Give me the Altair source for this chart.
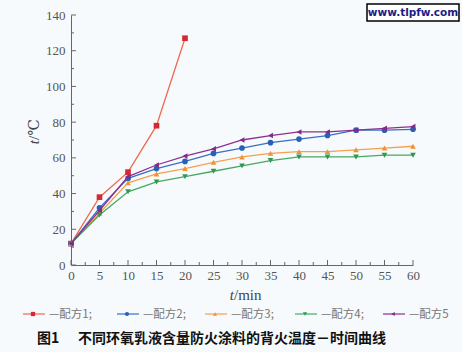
import altair as alt
import pandas as pd

# ---- data ----
times = [0, 5, 10, 15, 20, 25, 30, 35, 40, 45, 50, 55, 60]
s1 = [12, 38, 52, 78, 127]
s2 = [12, 32, 48.5, 54, 58, 62.5, 65.5, 68.5, 70.5, 72.5, 75.5, 75.5, 76]
s3 = [12, 29, 46, 51, 54, 57.5, 60.5, 62.5, 63.5, 63.5, 64.5, 65.5, 66.5]
s4 = [12, 28, 41, 46.5, 49.5, 52.5, 55.5, 58.5, 60.5, 60.5, 60.5, 61.5, 61.5]
s5 = [12, 30.5, 49.5, 56, 61, 65, 70, 72.5, 74.5, 74.5, 75.5, 76.5, 77.5]
names = ["配方1", "配方2", "配方3", "配方4", "配方5"]
series_vals = [s1, s2, s3, s4, s5]
x_major = list(range(0, 61, 5))
x_minor = [v + 2.5 for v in range(0, 60, 5)]
y_major = list(range(0, 141, 20))
y_minor = list(range(10, 140, 20))

# ---- styles ----
line_colors = ["#ee6a4e", "#3a6fc2", "#f5a04c", "#48a864", "#8e3090"]
mark_colors = ["#d42834", "#2462b6", "#f39232", "#2f9a4c", "#842a86"]
shapes = ["square", "circle", "triangle-up", "triangle-down", "triangle-left"]
W, H = 342, 250
serif = "'Liberation Serif', 'DejaVu Serif', serif"
cjk = "Noto Sans CJK SC"
gray = "#555555"

xs = alt.Scale(domain=[0, 60], nice=False)
ys = alt.Scale(domain=[0, 140], nice=False)
x_axis = alt.Axis(values=x_major, ticks=False, grid=False, title=None,
                  labelFont=serif, labelFontSize=13, labelColor=gray,
                  labelOverlap=False, labelFlush=False,
                  domainColor="#666666", labelPadding=4)
y_axis = alt.Axis(values=y_major, ticks=False, grid=False, title=None,
                  labelFont=serif, labelFontSize=13, labelColor=gray,
                  labelOverlap=False, labelFlush=False,
                  domainColor="#666666", labelPadding=6)

layers = []
for name, vals, lc, mc, sh in zip(names, series_vals, line_colors, mark_colors, shapes):
    df = pd.DataFrame({"t": times[:len(vals)], "v": vals, "s": name})
    base = alt.Chart(df).encode(
        x=alt.X("t:Q", scale=xs, axis=x_axis),
        y=alt.Y("v:Q", scale=ys, axis=y_axis),
    )
    layers.append(base.mark_line(color=lc, strokeWidth=1.3))
    layers.append(base.mark_point(filled=True, color=mc, shape=sh, size=32, opacity=1))

# inward ticks
def xticks(vals, length):
    return alt.Chart(pd.DataFrame({"t": vals})).mark_rule(color="#666666", strokeWidth=1).encode(
        x=alt.X("t:Q", scale=xs, axis=x_axis), y=alt.value(H), y2=alt.value(H - length))

def yticks(vals, length):
    return alt.Chart(pd.DataFrame({"v": vals})).mark_rule(color="#666666", strokeWidth=1).encode(
        y=alt.Y("v:Q", scale=ys, axis=y_axis), x=alt.value(0), x2=alt.value(length))

layers += [xticks(x_major, 5), xticks(x_minor, 3), yticks(y_major, 5), yticks(y_minor, 3)]

one = pd.DataFrame({"a": [0]})

def txt(text, x, y, font, size, color, **kw):
    return alt.Chart(one).mark_text(text=text, font=font, fontSize=size, color=color, **kw).encode(
        x=alt.value(x), y=alt.value(y))

# axis titles
layers.append(txt("t", -37, 125, serif, 15, "#444444", fontStyle="italic", angle=270, align="right", baseline="middle"))
layers.append(txt("/℃", -37, 125, serif, 15, "#444444", angle=270, align="left", baseline="middle"))
layers.append(txt("t", 163, 280, serif, 15, "#444444", fontStyle="italic", align="right", baseline="middle"))
layers.append(txt("/min", 163, 280, serif, 15, "#444444", align="left", baseline="middle"))

# legend
leg_line_x = [-48, 46, 134, 224, 312]
leg_line_w = 22
leg_y = 299
for i, (name, lc, mc, sh) in enumerate(zip(names, line_colors, mark_colors, shapes)):
    x0 = leg_line_x[i]
    layers.append(alt.Chart(one).mark_rule(color=lc, strokeWidth=1.2).encode(
        x=alt.value(x0), x2=alt.value(x0 + leg_line_w), y=alt.value(leg_y)))
    layers.append(alt.Chart(one).mark_point(filled=True, color=mc, shape=sh, size=18, opacity=1).encode(
        x=alt.value(x0 + 10), y=alt.value(leg_y)))
    label = "—" + name + ("; " if i < 4 else "")
    layers.append(txt(label, x0 + leg_line_w + 4, leg_y + 1, cjk, 11.5, "#777777", align="left", baseline="middle"))

# caption
layers.append(txt("图1", -34, 324, cjk, 14, "#111111", align="left", baseline="middle", fontWeight="bold"))
layers.append(txt("不同环氧乳液含量防火涂料的背火温度－时间曲线", 7, 324, cjk, 14, "#111111",
                  align="left", baseline="middle", fontWeight="bold"))

# watermark
layers.append(alt.Chart(one).mark_rect(fill="white", stroke="black", strokeWidth=1.5).encode(
    x=alt.value(296), x2=alt.value(388), y=alt.value(-11), y2=alt.value(6)))
layers.append(txt("www.tlpfw.com", 342, -2.5, "DejaVu Sans", 10.5, "#1c1c86",
                  align="center", baseline="middle", fontWeight="bold"))

chart = alt.layer(*layers).properties(
    width=W, height=H,
    autosize=alt.AutoSizeParams(type="none"),
    padding={"left": 71, "top": 15, "right": 49, "bottom": 87},
    background="#f6fafc",
).configure_view(stroke=None)

chart.save("out.html", embed_options={"renderer": "svg", "actions": False})
